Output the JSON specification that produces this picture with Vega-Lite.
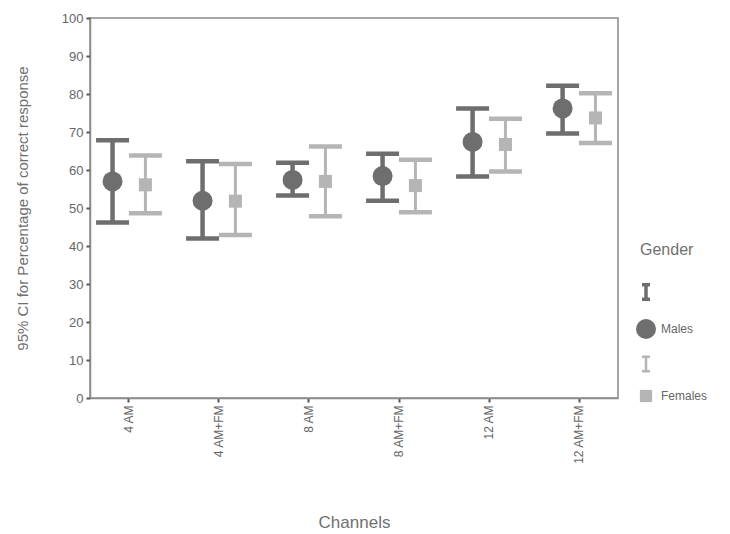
{
  "$schema": "https://vega.github.io/schema/vega-lite/v6.json",
  "autosize": {"type": "none"},
  "padding": {"left": 90, "top": 18, "right": 112, "bottom": 136},
  "width": 528,
  "height": 380,
  "background": "white",
  "config": {
    "font": "Liberation Sans",
    "view": {"stroke": "#8a8a8a", "strokeWidth": 1.5},
    "axis": {"labelColor": "#666666", "titleColor": "#707070", "domainColor": "#8a8a8a", "domainWidth": 1.5, "tickColor": "#555555", "tickWidth": 2, "tickSize": 4, "grid": false, "labelFont": "Liberation Sans", "titleFont": "Liberation Sans", "titleFontWeight": "normal"},
    "axisY": {"tickCount": 10, "labelOverlap": false},
    "legend": {"titleFontWeight": "normal", "titleFontSize": 16, "titleColor": "#707070", "labelColor": "#666666", "labelFontSize": 12, "titleFont": "Liberation Sans", "labelFont": "Liberation Sans"}
  },
  "data": {
    "values": [
      {"channel": "4 AM", "gender": "Males", "mean": 57.0, "lo": 46.2, "hi": 67.8},
      {"channel": "4 AM", "gender": "Females", "mean": 56.1, "lo": 48.6, "hi": 63.8},
      {"channel": "4 AM+FM", "gender": "Males", "mean": 51.9, "lo": 42.0, "hi": 62.3},
      {"channel": "4 AM+FM", "gender": "Females", "mean": 51.8, "lo": 42.9, "hi": 61.6},
      {"channel": "8 AM", "gender": "Males", "mean": 57.4, "lo": 53.3, "hi": 61.9},
      {"channel": "8 AM", "gender": "Females", "mean": 57.0, "lo": 47.8, "hi": 66.2},
      {"channel": "8 AM+FM", "gender": "Males", "mean": 58.4, "lo": 51.9, "hi": 64.3},
      {"channel": "8 AM+FM", "gender": "Females", "mean": 55.9, "lo": 48.9, "hi": 62.7},
      {"channel": "12 AM", "gender": "Males", "mean": 67.4, "lo": 58.3, "hi": 76.2},
      {"channel": "12 AM", "gender": "Females", "mean": 66.7, "lo": 59.6, "hi": 73.5},
      {"channel": "12 AM+FM", "gender": "Males", "mean": 76.2, "lo": 69.6, "hi": 82.2},
      {"channel": "12 AM+FM", "gender": "Females", "mean": 73.7, "lo": 67.1, "hi": 80.2}
    ]
  },
  "transform": [
    {"calculate": "datum.gender == 'Males' ? 'MBar' : 'FBar'", "as": "barkey"}
  ],
  "encoding": {
    "x": {
      "field": "channel", "type": "nominal", "sort": null,
      "scale": {"type": "band", "paddingInner": 0.27, "paddingOuter": 0.068},
      "axis": {"title": "Channels", "labelAngle": -90, "labelAlign": "right", "labelBaseline": "middle", "labelFontSize": 12, "labelPadding": 3, "titleFontSize": 17, "titleY": 129, "titleBaseline": "alphabetic"}
    },
    "xOffset": {"field": "gender", "type": "nominal", "scale": {"domain": ["Males", "Females"], "paddingInner": 0, "paddingOuter": 0}}
  },
  "layer": [
    {
      "mark": {"type": "rule"},
      "encoding": {
        "y": {"field": "lo", "type": "quantitative", "scale": {"domain": [0, 100], "nice": false}, "axis": {"title": "95% CI for Percentage of correct response", "labelFontSize": 13, "labelPadding": 3, "titleFontSize": 15, "titleX": -68, "titleBaseline": "middle"}},
        "y2": {"field": "hi"},
        "color": {
          "field": "barkey", "type": "nominal", "title": "Gender",
          "scale": {"domain": ["MBar", "Males", "FBar", "Females"], "range": ["#6e6e6e", "#6e6e6e", "#b5b5b5", "#b5b5b5"]},
          "legend": {
            "orient": "none", "legendX": 550, "legendY": 224,
            "titlePadding": 28, "rowPadding": 12, "labelOffset": 9,
            "symbolSize": 300,
            "labelExpr": "(datum.label == 'MBar' || datum.label == 'FBar') ? '' : datum.label",
            "encode": {
              "symbols": {
                "update": {
                  "shape": {"signal": "datum.value == 'Males' ? 'circle' : datum.value == 'Females' ? 'square' : 'M-0.55,-1H0.55M0,-1V1M-0.55,1H0.55'"},
                  "size": {"signal": "datum.value == 'Males' ? 400 : datum.value == 'Females' ? 150 : 210"},
                  "fill": {"signal": "datum.value == 'Males' ? '#6e6e6e' : datum.value == 'Females' ? '#b5b5b5' : 'transparent'"},
                  "stroke": {"signal": "datum.value == 'MBar' ? '#6e6e6e' : datum.value == 'FBar' ? '#b5b5b5' : 'transparent'"},
                  "strokeWidth": {"signal": "datum.value == 'MBar' ? 3.5 : datum.value == 'FBar' ? 2.5 : 0"},
                  "opacity": {"value": 1}
                }
              }
            }
          }
        },
        "strokeWidth": {"field": "gender", "type": "nominal", "scale": {"domain": ["Males", "Females"], "range": [4.5, 3]}, "legend": null}
      }
    },
    {
      "mark": {"type": "tick", "size": 33, "thickness": 4.5, "opacity": 1},
      "encoding": {
        "y": {"field": "lo", "type": "quantitative"},
        "color": {"field": "barkey", "type": "nominal", "title": "Gender"}
      }
    },
    {
      "mark": {"type": "tick", "size": 33, "thickness": 4.5, "opacity": 1},
      "encoding": {
        "y": {"field": "hi", "type": "quantitative"},
        "color": {"field": "barkey", "type": "nominal", "title": "Gender"}
      }
    },
    {
      "mark": {"type": "point", "filled": true, "opacity": 1},
      "encoding": {
        "y": {"field": "mean", "type": "quantitative"},
        "color": {"field": "gender", "type": "nominal", "title": "Gender"},
        "shape": {"field": "gender", "type": "nominal", "scale": {"domain": ["Males", "Females"], "range": ["circle", "square"]}, "legend": null},
        "size": {"field": "gender", "type": "nominal", "scale": {"domain": ["Males", "Females"], "range": [400, 170]}, "legend": null}
      }
    }
  ],
  "resolve": {"scale": {"color": "shared"}}
}
